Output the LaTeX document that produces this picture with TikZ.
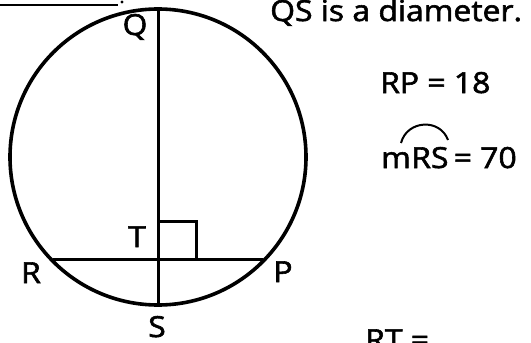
\documentclass[tikz,border=0pt]{standalone}
\usepackage{fontspec}
\setmainfont{Open Sans}[FakeBold=2,FakeStretch=1.1]
\usetikzlibrary{calc}
\begin{document}
\begin{tikzpicture}[x=1pt,y=-1pt,
  geo/.style={line width=3pt},
  rim/.style={line width=3.6pt},
  lab/.style={font=\fontsize{29}{32}\selectfont, inner sep=0pt, anchor=base},
  txt/.style={font=\fontsize{29}{32}\selectfont, inner sep=0pt, anchor=base west}]
\useasboundingbox (0,0) rectangle (531,343);
% circle
\coordinate (O) at (158,157);
\draw[rim] (O) circle[radius=148pt];
% points
\coordinate (Q) at (158,9);
\coordinate (S) at (158,305);
\coordinate (T) at (158,259);
\coordinate (R) at (53,259);
\coordinate (P) at (263,259);
\draw[geo] (Q) -- (S);
\draw[geo] (R) -- (P);
\draw[geo, line join=miter] (T) ++(0,-38) coordinate (T1) -- ++(38,0) coordinate (T2) -- ++(0,38) coordinate (T3);
% top-left answer blank
\coordinate (B1) at (0,5);
\coordinate (B2) at (118,5);
\draw[line width=1.6pt] (B1) -- (B2);
\fill (122,2) circle[radius=1.6pt];
% labels
\node[lab] (lQ) at (135,35) {Q};
\node[lab] (lT) at (137,247) {T};
\node[lab] (lR) at (31,283) {R};
\node[lab] (lP) at (283,282) {P};
\node[lab] (lS) at (157,337) {S};
% text
\node[txt] (diam) at (270,21) {QS is a diameter.};
\node[txt] (rp) at (380,93) {RP = 18};
\node[txt] (m) at (381,168) {m};
\node[txt] (rs) at (m.base east) {RS};
\node[txt] (eq) at (rs.base east) {\,= 70};
\coordinate (a1) at (401,143);
\coordinate (a2) at (448,140);
\draw[line width=2pt] (a1) .. controls (407,120) and (440,118) .. (a2);
\node[txt] (rt) at (365,350) {RT =};
\end{tikzpicture}
\end{document}
